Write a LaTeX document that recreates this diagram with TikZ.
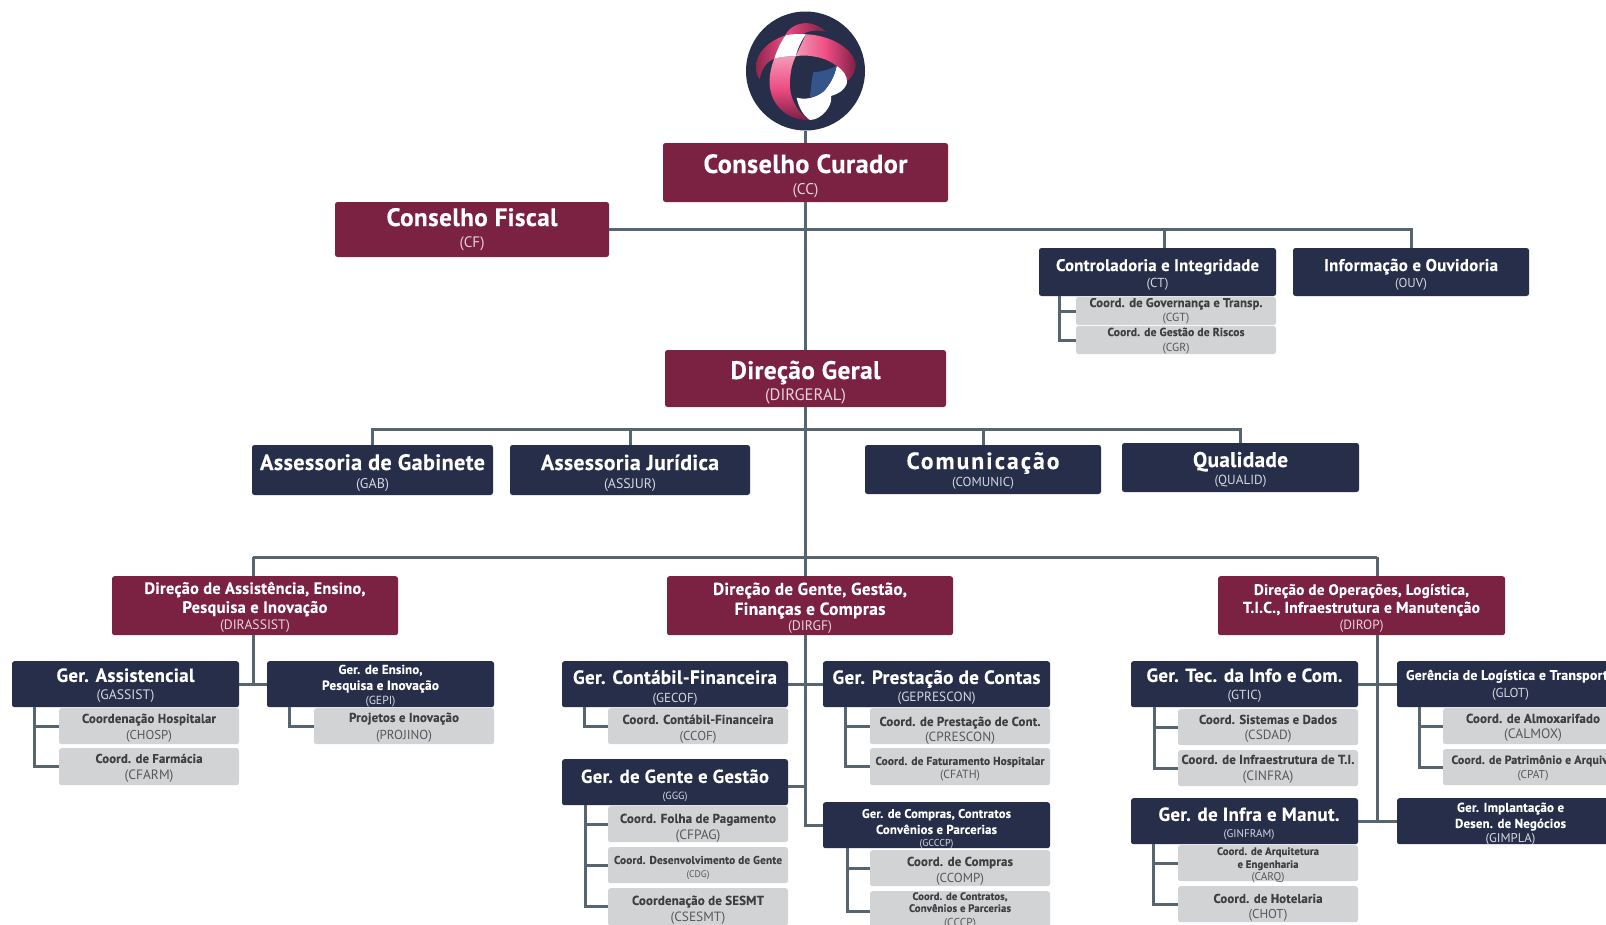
\documentclass[tikz,border=0pt]{standalone}
\usepackage{fontspec}
\setmainfont[BoldFeatures={LetterSpace=1.5,FakeBold=0.25}]{PT Sans}
\newfontfamily\spacedfam[BoldFeatures={LetterSpace=9,FakeBold=0.25}]{PT Sans}
\definecolor{wine}{HTML}{7B2141}
\definecolor{navy}{HTML}{262E4A}
\definecolor{paleg}{HTML}{D1D3D4}
\definecolor{linec}{HTML}{56656F}
\definecolor{darktx}{HTML}{3E3F42}
\definecolor{subtx}{HTML}{57585B}
\definecolor{wsub}{HTML}{E6D3DA}
\definecolor{nsub}{HTML}{D5D8E0}
\definecolor{pinkA}{HTML}{EE4C82}
\definecolor{pinkB}{HTML}{F59AB6}
\definecolor{darkm}{HTML}{7A1F42}
\definecolor{bluel}{HTML}{35548C}
\newlength\fitw
\def\rowdy{0}
\def\txtup{1}
\def\lindn{0}
\newcommand\Lin[4]{\settowidth\fitw{\fontsize{10}{10}\selectfont#1{}#4}\pgfmathsetmacro\fsz{10*#2/\fitw}\makebox[0pt][c]{\raisebox{\dimexpr\cyc pt-#3pt+\txtup pt-\lindn pt\relax}[0pt][0pt]{\fontsize{\fsz}{\fsz}\selectfont#1{}#4}}}
\newcommand\TL[3]{\Lin{\bfseries}{#1}{#2}{#3}}
\newcommand\SL[3]{{\def\lindn{0.8}\Lin{\mdseries\color{subc}}{#1}{#2}{#3}}}
\newcommand\bx[7]{\pgfmathsetmacro{\cyc}{(#4+#6)/2}\node[#2,anchor=north west,minimum width={#5-#3},minimum height={#6-#4}] (#1) at (#3,{#4+\rowdy}) {#7};}
\tikzset{
  boxbase/.style={rectangle,rounded corners=2.5pt,inner sep=0pt,outer sep=0pt},
  winebox/.style={boxbase,fill=wine,text=white,execute at begin node={\colorlet{subc}{wsub}}},
  navybox/.style={boxbase,fill=navy,text=white,execute at begin node={\colorlet{subc}{nsub}}},
  graybox/.style={boxbase,fill=paleg,text=darktx,execute at begin node={\colorlet{subc}{subtx}}},
  conn/.style={draw=linec,line width=3pt,line cap=butt,line join=miter},
}
\newcommand\subl[3]{\coordinate (tmpx) at (#2,0);\draw[conn] (#1.south -| tmpx) |- (#3.west);}
\begin{document}
\begin{tikzpicture}[x=1pt,y=-1pt]
\useasboundingbox (0,0) rectangle (1606,924);
\fill[white] (0,0) rectangle (1606,924);
% top
\node[circle,fill=navy,minimum size=119pt,inner sep=0pt,outer sep=0pt] (logo) at (805.5,71) {};
\bx{cc}{winebox}{663}{143}{948}{202}{\TL{204}{174}{Conselho Curador}\SL{26}{195}{(CC)}}
\bx{cf}{winebox}{335}{202}{609}{257}{\TL{171}{227}{Conselho Fiscal}\SL{25}{248}{(CF)}}
\bx{ct}{navybox}{1039}{248}{1276}{296}{\TL{203}{272}{Controladoria e Integridade}\SL{22}{288}{(CT)}}
\bx{ouv}{navybox}{1293}{248}{1529}{296}{\TL{174}{272}{Informação e Ouvidoria}\SL{32}{288}{(OUV)}}
\bx{cgt}{graybox}{1076}{297}{1276}{325}{\TL{173}{308}{Coord. de Governança e Transp.}\SL{27}{322}{(CGT)}}
\bx{cgr}{graybox}{1076}{326}{1276}{354}{\TL{137}{337}{Coord. de Gestão de Riscos}\SL{27}{352}{(CGR)}}
\bx{dg}{winebox}{665}{350}{946}{407}{\TL{150}{380}{Direção Geral}\SL{81}{401}{(DIRGERAL)}}
\bx{gab}{navybox}{252}{445}{493}{495}{\TL{225}{471}{Assessoria de Gabinete}\SL{33}{488.5}{(GAB)}}
\bx{assjur}{navybox}{510}{445}{750}{495}{\TL{178}{471}{Assessoria Jurídica}\SL{52}{488.5}{(ASSJUR)}}
\bx{comunic}{navybox}{865}{445}{1101}{494}{\Lin{\spacedfam\bfseries}{153}{470}{Comunicação}\SL{62}{486.5}{(COMUNIC)}}
\bx{qualid}{navybox}{1122}{443}{1359}{492}{\TL{95}{468}{Qualidade}\SL{52}{484.5}{(QUALID)}}
\def\rowdy{-0.8}
\def\txtup{0.3}
% directions
\bx{dirassist}{winebox}{112}{577}{398}{636}{\TL{221}{595}{Direção de Assistência, Ensino,}\TL{145}{614}{Pesquisa e Inovação}\SL{70}{630}{(DIRASSIST)}}
\bx{dirgf}{winebox}{667}{577}{953}{636}{\TL{194}{596}{Direção de Gente, Gestão,}\TL{151}{616}{Finanças e Compras}\SL{44}{631}{(DIRGF)}}
\bx{dirop}{winebox}{1218}{577}{1505}{636}{\TL{215}{596}{Direção de Operações, Logística,}\TL{237}{614}{T.I.C., Infraestrutura e Manutenção}\SL{44}{630}{(DIROP)}}
% left block
\bx{gassist}{navybox}{12}{662}{239}{708}{\TL{138}{683}{Ger. Assistencial}\SL{58}{700}{(GASSIST)}}
\bx{gepi}{navybox}{267}{662}{494}{708}{\TL{84}{675}{Ger. de Ensino,}\TL{117}{691}{Pesquisa e Inovação}\SL{30}{705}{(GEPI)}}
\bx{chosp}{graybox}{59}{709}{239}{745}{\TL{134}{724}{Coordenação Hospitalar}\SL{46}{740}{(CHOSP)}}
\bx{cfarm}{graybox}{59}{749}{239}{786}{\TL{107}{764}{Coord. de Farmácia}\SL{49}{780}{(CFARM)}}
\bx{projino}{graybox}{314}{709}{494}{745}{\TL{110}{723}{Projetos e Inovação}\SL{56}{740}{(PROJINO)}}
% middle block
\bx{gecof}{navybox}{562}{662}{788}{708}{\TL{204}{685}{Ger. Contábil-Financeira}\SL{45}{703}{(GECOF)}}
\bx{geprescon}{navybox}{823}{662}{1050}{708}{\TL{208}{685}{Ger. Prestação de Contas}\SL{78}{702}{(GEPRESCON)}}
\bx{ccof}{graybox}{608}{709}{788}{745}{\TL{151}{725}{Coord. Contábil-Financeira}\SL{37}{741}{(CCOF)}}
\bx{ggg}{navybox}{562}{760}{788}{806}{\TL{188}{784}{Ger. de Gente e Gestão}\SL{25}{800}{(GGG)}}
\bx{cfpag}{graybox}{608}{807}{788}{843}{\TL{156}{824}{Coord. Folha de Pagamento}\SL{45}{840}{(CFPAG)}}
\bx{cdg}{graybox}{608}{848}{788}{884}{\TL{168}{865}{Coord. Desenvolvimento de Gente}\SL{23}{878}{(CDG)}}
\bx{csesmt}{graybox}{608}{889}{788}{926}{\TL{132}{906}{Coordenação de SESMT}\SL{55}{922}{(CSESMT)}}
\bx{cprescon}{graybox}{870}{709}{1050}{745}{\TL{161}{727}{Coord. de Prestação de Cont.}\SL{70}{742}{(CPRESCON)}}
\bx{cfath}{graybox}{870}{749}{1050}{786}{\TL{169}{766}{Coord. de Faturamento Hospitalar}\SL{40}{779}{(CFATH)}}
\bx{gcccp}{navybox}{823}{803}{1050}{849}{\TL{149}{819}{Ger. de Compras, Contratos}\TL{121}{835}{Convênios e Parcerias}\SL{34}{847}{(GCCCP)}}
\bx{ccomp}{graybox}{870}{851}{1050}{887}{\TL{106}{867}{Coord. de Compras}\SL{48}{883}{(CCOMP)}}
\bx{cccp}{graybox}{870}{892}{1050}{932}{\TL{95}{901}{Coord. de Contratos,}\TL{102}{913}{Convênios e Parcerias}\SL{32}{927}{(CCCP)}}
% right block
\bx{gtic}{navybox}{1131}{662}{1358}{708}{\TL{196}{683}{Ger. Tec. da Info e Com.}\SL{34}{700}{(GTIC)}}
\bx{csdad}{graybox}{1178}{710}{1358}{746}{\TL{138}{725}{Coord. Sistemas e Dados}\SL{47}{740}{(CSDAD)}}
\bx{cinfra}{graybox}{1178}{751}{1358}{787}{\TL{173}{765}{Coord. de Infraestrutura de T.I.}\SL{51}{781}{(CINFRA)}}
\bx{ginfram}{navybox}{1131}{799}{1358}{845}{\kern9pt\TL{181}{822}{Ger. de Infra e Manut.}\SL{51}{838}{(GINFRAM)}}
\bx{carq}{graybox}{1178}{846}{1358}{882}{\TL{102}{856}{Coord. de Arquitetura}\TL{61}{869}{e Engenharia}\SL{33}{881}{(CARQ)}}
\bx{chot}{graybox}{1178}{887}{1358}{923}{\TL{109}{904}{Coord. de Hotelaria}\SL{39}{919}{(CHOT)}}
\bx{glot}{navybox}{1397}{662}{1624}{708}{\TL{209}{681}{Gerência de Logística e Transporte}\SL{37}{698}{(GLOT)}}
\bx{calmox}{graybox}{1443}{709}{1623}{745}{\TL{134}{724}{Coord. de Almoxarifado}\SL{58}{739}{(CALMOX)}}
\bx{cpat}{graybox}{1443}{750}{1623}{786}{\TL{163}{765}{Coord. de Patrimônio e Arquivo}\SL{31}{779}{(CPAT)}}
\bx{gimpla}{navybox}{1397}{799}{1624}{845}{\TL{107}{813}{Ger. Implantação e}\TL{111}{829}{Desen. de Negócios}\SL{50}{843}{(GIMPLA)}}
% connectors
\coordinate (ctdrop) at (1164,229.5);
\coordinate (bar1) at (805.5,429);
\coordinate (barL) at (253,557);
\coordinate (barM) at (805.5,557);
\coordinate (barR) at (1377,557);
\coordinate (gggjoin) at (805.5,786);
\draw[conn] (logo.south) -- (cc.north);
\draw[conn] (cc.south) -- (dg.north);
\draw[conn] (cf.east) -| (ouv.north);
\draw[conn] (ctdrop) -- (ctdrop |- ct.north);
\draw[conn] (gab.north) |- (bar1);
\draw[conn] (assjur.north) |- (bar1);
\draw[conn] (comunic.north) |- (bar1);
\draw[conn] (qualid.north) |- (bar1);
\draw[conn] (barL) -- (barR);
\draw[conn] (barL) -- (barL |- dirassist.north);
\draw[conn] (barR) -- (barR |- dirop.north);
\draw[conn] (dg.south) -- (dg.south |- dirgf.north);
\draw[conn] (dg.south |- dirgf.south) |- (gcccp.west);
\draw[conn] (barL |- dirassist.south) -- (barL |- gassist.east);
\draw[conn] (gassist.east) -- (gepi.west);
\draw[conn] (gecof.east) -- (geprescon.west);
\draw[conn] (gggjoin -| ggg.east) -- (gggjoin);
\draw[conn] (barR |- dirop.south) |- (gimpla.west);
\draw[conn] (gtic.east) -- (glot.west);
\draw[conn] (ginfram.east) -- (gimpla.west);
\subl{ct}{1059}{cgt}\subl{ct}{1059}{cgr}
\subl{gassist}{34}{chosp}\subl{gassist}{34}{cfarm}
\subl{gepi}{289}{projino}
\subl{gecof}{584}{ccof}
\subl{ggg}{585}{cfpag}\subl{ggg}{585}{cdg}\subl{ggg}{585}{csesmt}
\subl{geprescon}{845}{cprescon}\subl{geprescon}{845}{cfath}
\subl{gcccp}{847}{ccomp}\subl{gcccp}{847}{cccp}
\subl{gtic}{1154}{csdad}\subl{gtic}{1154}{cinfra}
\subl{ginfram}{1153}{carq}\subl{ginfram}{1153}{chot}
\subl{glot}{1419}{calmox}\subl{glot}{1419}{cpat}
% logo artwork
\begin{scope}[shift={(745,10)},x=0.3333pt,y=-0.3333pt]
\shade[left color=pinkA,right color=darkm] (120,76) .. controls (140,38) and (195,22) .. (245,66) .. controls (215,58) and (190,62) .. (170,74) -- cycle;
\shade[left color=darkm,right color=pinkA] (44,208) .. controls (12,160) and (50,98) .. (122,76) -- (88,146) .. controls (65,155) and (50,175) .. (44,208) -- cycle;
\shade[left color=pinkB,right color=darkm,middle color=pinkA] (183,73) .. controls (250,75) and (320,110) .. (332,160) .. controls (335,180) and (320,205) .. (302,216) .. controls (305,190) and (270,150) .. (210,140) .. controls (190,136) and (170,135) .. (152,139) -- cycle;
\shade[top color=pinkB,bottom color=darkm,middle color=pinkA] (88,146) .. controls (70,190) and (60,260) .. (115,305) .. controls (140,325) and (170,332) .. (195,330) .. controls (165,315) and (130,270) .. (135,210) .. controls (137,180) and (142,160) .. (152,139) .. controls (130,138) and (105,141) .. (88,146) -- cycle;
\fill[white] (122,76) .. controls (140,72) and (165,71) .. (183,73) .. controls (170,90) and (158,115) .. (152,139) .. controls (130,138) and (105,141) .. (88,146) .. controls (96,120) and (108,95) .. (122,76) -- cycle;
\fill[white] (275,168) .. controls (295,180) and (308,200) .. (306,218) .. controls (300,240) and (280,252) .. (258,258) .. controls (265,285) and (230,330) .. (195,330) .. controls (175,318) and (160,290) .. (155,263) .. controls (180,270) and (210,265) .. (235,245) .. controls (255,225) and (270,195) .. (275,168) -- cycle;
\fill[bluel] (205,187) .. controls (230,185) and (255,178) .. (275,168) .. controls (270,195) and (255,225) .. (235,245) .. controls (222,255) and (208,260) .. (195,262) .. controls (197,235) and (200,210) .. (205,187) -- cycle;
\end{scope}
\end{tikzpicture}
\end{document}
